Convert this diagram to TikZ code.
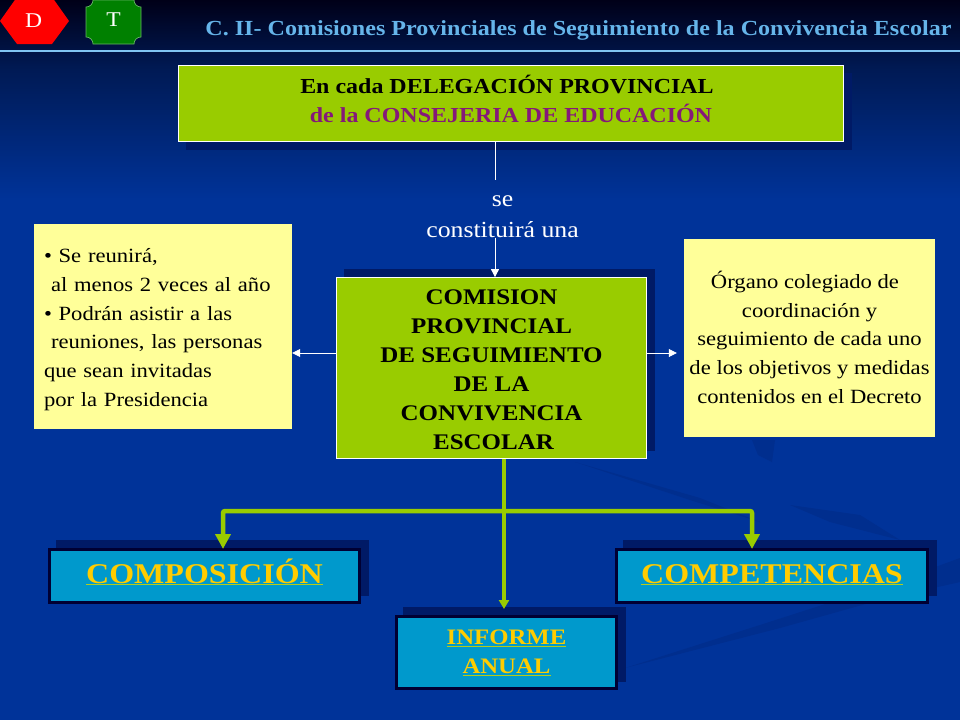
\documentclass[tikz,border=0pt]{standalone}
\usepackage{fontspec}
\setmainfont[FakeStretch=1.12]{Liberation Serif}
\usetikzlibrary{calc,shadows,arrows.meta}
\definecolor{fondo}{HTML}{003399}
\definecolor{fondonoche}{HTML}{000018}
\definecolor{fondomedio}{HTML}{001A55}
\definecolor{estela}{HTML}{002E8E}
\definecolor{sombra}{HTML}{001A66}
\definecolor{lima}{HTML}{99CC00}
\definecolor{crema}{HTML}{FFFF99}
\definecolor{celeste}{HTML}{0099CC}
\definecolor{tinta}{HTML}{000033}
\definecolor{oro}{HTML}{FFCC00}
\definecolor{subrayado}{HTML}{B5CC1A}
\definecolor{titular}{HTML}{66B5EA}
\definecolor{filete}{HTML}{80C4F2}
\definecolor{morado}{HTML}{85187A}
\definecolor{botonverde}{HTML}{008000}
\newcommand\enlace[1]{\textcolor{subrayado}{\underline{\textcolor{oro}{#1}}}}
\tikzset{
  limabox/.style={draw=white,line width=0.8pt,fill=lima,inner sep=0pt,align=center},
  cremabox/.style={fill=crema,inner sep=0pt,font=\fontsize{20.2}{28.7}\selectfont},
  linkbox/.style={draw=tinta,line width=3pt,fill=celeste,inner sep=0pt,align=center,
    copy shadow={shadow xshift=8pt,shadow yshift=8pt,fill=sombra,draw=sombra}},
  linkgrande/.style={linkbox,minimum width=310pt,minimum height=53pt,text height=20pt,text depth=6pt,
    font=\fontsize{28.6}{30}\selectfont\bfseries},
  wire/.style={white,line width=0.8pt,-{Triangle[length=8pt,width=8pt]}},
  rama/.style={lima,line width=4.5pt,rounded corners=2pt},
  ramatip/.style={rama,-{Triangle[length=15pt,width=15pt]}}
}
\begin{document}
\begin{tikzpicture}[x=1pt,y=-1pt]
  \useasboundingbox (0,0) rectangle (960,720);
  % fondo
  \fill[fondo] (0,0) rectangle (960,720);
  \shade[top color=fondonoche,bottom color=fondomedio] (0,0) rectangle (960,70);
  \shade[top color=fondomedio,bottom color=fondo] (0,70) rectangle (960,200);
  \fill[estela] (625,668) -- (760,625) -- (900,580) -- (960,558) -- (960,582) -- (880,600) -- (780,628) -- cycle;
  \fill[estela] (575,462) -- (700,498) -- (760,522) -- (690,500) -- cycle;
  \fill[estela] (790,505) -- (860,515) -- (900,540) -- (830,522) -- cycle;
  \fill[estela] (752,440) -- (775,440) -- (772,462) -- (758,455) -- cycle;
  \fill[filete] (0,49.5) rectangle (960,51.5);
  % botones
  \fill[red] (0,21) -- (17,-3) -- (52,-3) -- (69,21) -- (52,44) -- (17,44) -- cycle;
  \node[white,font=\fontsize{21}{21}\selectfont] (botond) at (33.5,21) {D};
  \draw[fill=botonverde,draw=botonverde!60!white,line width=0.7pt]
    (86,7) .. controls (90,7) and (93,4) .. (93,0) -- (134,0)
    .. controls (134,4) and (137,7) .. (141,7) -- (141,37)
    .. controls (137,37) and (134,40) .. (134,44) -- (93,44)
    .. controls (93,40) and (90,37) .. (86,37) -- cycle;
  \node[white,font=\fontsize{21}{21}\selectfont] (botont) at (113.5,20) {T};
  \node[titular,anchor=east,font=\fontsize{21.5}{21.5}\selectfont\bfseries] (titulo) at (955,30)
    {C. II- Comisiones Provinciales de Seguimiento de la Convivencia Escolar};
  % cajas
  \node[limabox,minimum width=665pt,minimum height=76pt,font=\fontsize{21.4}{29}\selectfont\bfseries,
    copy shadow={shadow xshift=8pt,shadow yshift=-8pt,fill=sombra,draw=sombra}] (delegacion) at (511,103.5)
    {En cada DELEGACIÓN PROVINCIAL\hspace*{8pt}\\ \textcolor{morado}{de la CONSEJERIA DE EDUCACIÓN}\hspace*{2pt}\\[-19pt]\mbox{}};
  \node[white,align=center,inner sep=0pt,font=\fontsize{23}{31}\selectfont] (frase) at (502.5,216.5)
    {se\\constituirá una};
  \node[limabox,minimum width=310pt,minimum height=181pt,font=\fontsize{22.3}{29}\selectfont\bfseries,
    copy shadow={shadow xshift=8pt,shadow yshift=8pt,fill=sombra,draw=sombra}] (comision) at (491.5,368)
    {\mbox{}\\[-11pt]COMISION\hspace*{7pt}\\PROVINCIAL\\DE SEGUIMIENTO\\DE LA\hspace*{7pt}\\CONVIVENCIA\\\hspace*{4pt}ESCOLAR};
  \node[cremabox,minimum width=258pt,minimum height=205pt,text width=238pt,align=left] (reunion) at (163,326.5)
    {\mbox{}\\[-8.7pt]{\textbullet} Se reunirá,\\
     \hspace*{7pt}al menos 2 veces al año\\
     {\textbullet} Podrán asistir a las\\
     \hspace*{7pt}reuniones, las personas\\
     que sean invitadas\\
     por la Presidencia};
  \node[cremabox,minimum width=251pt,minimum height=198pt,align=center] (organo) at (809.5,338)
    {Órgano colegiado de\hspace*{9pt}\\coordinación y\hspace*{9pt}\\seguimiento de cada uno\hspace*{9pt}\\de los objetivos y medidas\hspace*{9pt}\\contenidos en el Decreto\\[-27pt]\mbox{}};
  \node[linkgrande] (composicion) at (204.5,576) {\enlace{COMPOSICIÓN}};
  \node[linkgrande,minimum width=311pt] (competencias) at (772,576) {\enlace{COMPETENCIAS}};
  \node[linkbox,minimum width=220pt,minimum height=72pt,font=\fontsize{22.1}{29}\selectfont\bfseries] (informe) at (506.5,652.5)
    {\enlace{INFORME}\\\enlace{ANUAL}};
  % conectores
  \coordinate (bajada) at (495,180);
  \coordinate (eje) at (0,353);
  \coordinate (ramal) at (504,511);
  \draw[white,line width=0.8pt] (delegacion.south -| bajada) -- (bajada);
  \draw[wire] (frase.south -| bajada) -- (comision.north -| bajada);
  \draw[wire] (comision.west |- eje) -- (reunion.east |- eje);
  \draw[wire,shorten >=7pt] (comision.east |- eje) -- (organo.west |- eje);
  \draw[rama] (comision.south -| ramal) -- (ramal);
  \draw[ramatip] (ramal) -| ($(composicion.north)+(18.5,1)$);
  \draw[ramatip] (ramal) -| ($(competencias.north)+(-20,1)$);
  \draw[lima,line width=3.5pt,-{Triangle[length=9pt,width=10pt]},shorten >=6pt] (ramal) -- (informe.north -| ramal);
\end{tikzpicture}
\end{document}
